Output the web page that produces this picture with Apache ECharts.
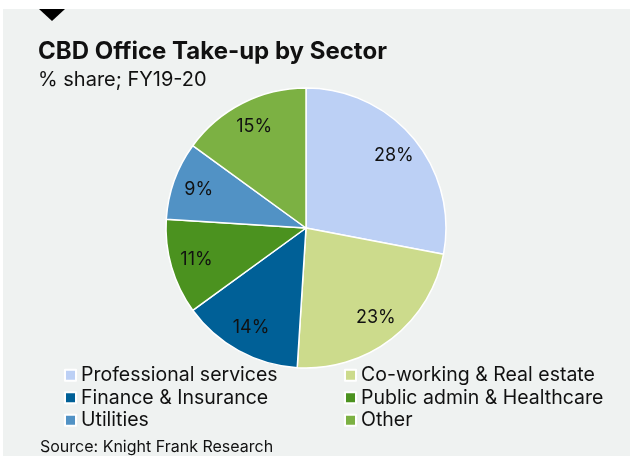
<!DOCTYPE html>
<html>
<head>
<meta charset="utf-8">
<script src="https://cdn.jsdelivr.net/npm/echarts@6/dist/echarts.min.js"></script>
<style>
  html, body { margin: 0; padding: 0; background: #ffffff; }
  #chart { width: 630px; height: 456px; }
</style>
</head>
<body>
<div id="chart"></div>
<script>
// Sector shares of CBD office take-up, FY19-20 (percent)
const sectors = [
  'Professional services',
  'Co-working & Real estate',
  'Finance & Insurance',
  'Public admin & Healthcare',
  'Utilities',
  'Other'
];
const shares = [28, 23, 14, 11, 9, 15];
const sectorColors = ['#bcd0f5', '#ccdb8c', '#006097', '#4b921f', '#5192c5', '#7cb143'];

const leftLegend = ['Professional services', 'Finance & Insurance', 'Utilities'];
const rightLegend = ['Co-working & Real estate', 'Public admin & Healthcare', 'Other'];

const FONT = 'Inter, "Liberation Sans", Arial, sans-serif';

const pieData = sectors.map((name, i) => ({
  name: name,
  value: shares[i],
  itemStyle: { color: sectorColors[i] }
}));

const chart = echarts.init(document.getElementById('chart'), null, { renderer: 'canvas' });

const legendBase = {
  orient: 'vertical',
  top: 364,
  icon: 'rect',
  itemWidth: 11,
  itemHeight: 11,
  itemGap: 0,
  padding: 0,
  selectedMode: false,
  textStyle: { fontFamily: FONT, fontSize: 19.5, color: '#111111', lineHeight: 22.5, padding: [0, 0, 0, 0] }
};

chart.setOption({
  backgroundColor: '#ffffff',
  animation: false,
  graphic: [
    { type: 'rect', shape: { x: 3, y: 9, width: 627, height: 447 }, style: { fill: '#eff2f1' }, z: -10 },
    { type: 'polygon', shape: { points: [[39, 9], [65, 9], [52, 21]] }, style: { fill: '#000000' } },
    {
      type: 'text', left: 40, top: 439,
      style: { text: 'Source: Knight Frank Research', font: '16px ' + FONT, fill: '#111111' }
    }
  ],
  title: [
    {
      text: 'CBD Office Take-up by Sector',
      left: 38, top: 40, padding: 0,
      textStyle: { fontFamily: FONT, fontSize: 24, fontWeight: 'bold', color: '#111111' }
    },
    {
      text: '% share; FY19-20',
      left: 38, top: 70, padding: 0,
      textStyle: { fontFamily: FONT, fontSize: 20, fontWeight: 'normal', color: '#111111' }
    }
  ],
  legend: [
    Object.assign({}, legendBase, { left: 64, data: leftLegend }),
    Object.assign({}, legendBase, { left: 344, data: rightLegend })
  ],
  series: [
    {
      type: 'pie',
      center: [306, 228],
      radius: [0, 140],
      startAngle: 90,
      clockwise: true,
      label: { show: false },
      labelLine: { show: false },
      itemStyle: { borderColor: '#ffffff', borderWidth: 1.5 },
      emphasis: { disabled: true },
      data: pieData
    },
    {
      // transparent ring used to place the percentage labels further out
      type: 'pie',
      center: [306, 228],
      radius: [82, 140],
      startAngle: 90,
      clockwise: true,
      silent: true,
      legendHoverLink: false,
      itemStyle: { color: 'rgba(0,0,0,0)', borderWidth: 0 },
      label: {
        show: true,
        position: 'inside',
        formatter: '{c}%',
        fontFamily: FONT,
        fontSize: 18,
        color: '#111111'
      },
      labelLine: { show: false },
      emphasis: { disabled: true },
      data: sectors.map((name, i) => ({ name: name, value: shares[i] }))
    }
  ]
});
</script>
</body>
</html>
